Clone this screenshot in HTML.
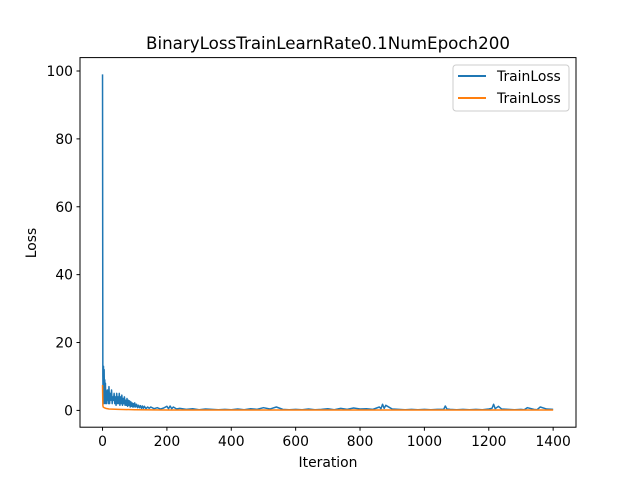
<!DOCTYPE html>
<html><head><meta charset="utf-8"><style>
body{margin:0;background:#fff}
svg text{font-family:"DejaVu Sans","Liberation Sans",sans-serif;fill:#000}
</style></head><body>
<svg id="chart" width="640" height="480">
<rect x="0" y="0" width="640" height="480" fill="#fff"/>
<text x="328" y="49" font-size="16.7" text-anchor="middle">BinaryLossTrainLearnRate0.1NumEpoch200</text>
<g id="plot"></g>
<rect x="80" y="57.6" width="496" height="369.6" fill="none" stroke="#000" stroke-width="1"/>
<g id="ticks"></g>
<text x="328" y="467" font-size="13.9" text-anchor="middle">Iteration</text>
<text x="36" y="243" font-size="13.9" text-anchor="middle" transform="rotate(-90 36 243)">Loss</text>
<g>
<rect x="453" y="65" width="116" height="46" rx="3" fill="#fff" fill-opacity="0.8" stroke="#ccc"/>
<line x1="458" y1="76" x2="486" y2="76" stroke="#1f77b4" stroke-width="2"/>
<text x="497" y="81" font-size="13.9">TrainLoss</text>
<line x1="458" y1="98" x2="486" y2="98" stroke="#ff7f0e" stroke-width="2"/>
<text x="497" y="103" font-size="13.9">TrainLoss</text>
</g>
</svg>
<script>
const blueIters=[0,1,2,3,4,5,6,7,8,9,10,11,12,13,14,16,18,20,22,24,26,28,30,32,34,36,38,40,42,44,46,48,50,52,54,56,58,60,62,64,66,68,70,72,74,76,78,80,82,84,86,88,90,92,94,96,98,100,103,106,109,112,115,118,121,124,127,130,135,140,145,150,160,170,180,190,200,205,210,215,220,230,240,260,280,300,320,340,360,380,400,420,440,460,480,500,520,540,560,580,600,620,640,660,680,700,720,740,760,780,800,820,840,860,865,870,875,880,900,920,940,960,980,1000,1020,1040,1060,1065,1070,1080,1100,1120,1140,1160,1180,1200,1210,1215,1220,1230,1240,1260,1280,1300,1310,1320,1340,1350,1360,1380,1400];
const blueLoss=[99,10,3,13,2,12,4,9,2,8,3,6,2,5,3,6,2,7,2,5,3,6,2,4,3,5,2,4,1.5,5,2,4,2,5,1.5,4,2,4.5,1.5,3.5,2,4,1.5,3,1.5,3.5,1.2,3,1.5,2.8,1,2.5,1.2,2.2,1,2,1,2.2,1,1.8,0.8,1.5,0.8,1.4,0.6,1.3,0.6,1.2,0.5,1,0.6,1,0.5,0.8,0.4,0.7,1.2,0.5,1.3,0.5,1,0.4,0.6,0.3,0.5,0.2,0.4,0.3,0.2,0.3,0.2,0.4,0.2,0.5,0.3,0.8,0.4,1,0.3,0.2,0.3,0.2,0.4,0.2,0.3,0.5,0.2,0.6,0.3,0.7,0.4,0.5,0.3,1,0.5,1.8,0.6,1.5,0.4,0.3,0.2,0.3,0.2,0.3,0.2,0.3,0.3,1.3,0.4,0.3,0.2,0.3,0.2,0.3,0.2,0.4,0.6,1.8,0.5,1.2,0.4,0.3,0.2,0.3,0.2,0.8,0.3,0.2,1,0.4,0.3,0.9];
const orangeIters=[0,1,2,5,10,20,50,100,200,400,600,800,1000,1200,1400];
const orangeLoss=[7.5,1.5,1,0.8,0.6,0.4,0.3,0.2,0.1,0.1,0.1,0.1,0.1,0.1,0.1];
const xTicks=[0,200,400,600,800,1000,1200,1400];
const yTicks=[0,20,40,60,80,100];
const xMin=-70,xMax=1471,yMin=-4.95,yMax=103.95;
const L=80,R=576,T=57.6,B=427.2;
const X=v=>L+(v-xMin)/(xMax-xMin)*(R-L);
const Y=v=>B-(v-yMin)/(yMax-yMin)*(B-T);
const NS='http://www.w3.org/2000/svg';
const plot=document.getElementById('plot'),ticks=document.getElementById('ticks');
function line(xs,ys,color,name){
  const n=Math.min(xs.length,ys.length);let d='';
  for(let i=0;i<n;i++)d+=(i?'L':'M')+X(xs[i]).toFixed(2)+' '+Y(ys[i]).toFixed(2);
  const p=document.createElementNS(NS,'path');
  p.setAttribute('d',d);p.setAttribute('fill','none');p.setAttribute('stroke',color);
  p.setAttribute('stroke-width','1.5');p.setAttribute('stroke-linejoin','round');
  
  
  plot.appendChild(p);
}
line(blueIters,blueLoss,'#1f77b4','train-loss-blue-line');
line(orangeIters,orangeLoss,'#ff7f0e','train-loss-orange-line');
xTicks.forEach(v=>{
  const x=X(v);
  const l=document.createElementNS(NS,'line');
  l.setAttribute('x1',x);l.setAttribute('x2',x);l.setAttribute('y1',B);l.setAttribute('y2',B+3.5);l.setAttribute('stroke','#000');
  
  
  ticks.appendChild(l);
  const t=document.createElementNS(NS,'text');
  t.setAttribute('x',x);t.setAttribute('y',B+19);t.setAttribute('font-size','13.9');t.setAttribute('text-anchor','middle');
  t.textContent=v;
  
  
  ticks.appendChild(t);
});
yTicks.forEach(v=>{
  const y=Y(v);
  const l=document.createElementNS(NS,'line');
  l.setAttribute('x1',L-3.5);l.setAttribute('x2',L);l.setAttribute('y1',y);l.setAttribute('y2',y);l.setAttribute('stroke','#000');
  
  
  ticks.appendChild(l);
  const t=document.createElementNS(NS,'text');
  t.setAttribute('x',L-7);t.setAttribute('y',y+5);t.setAttribute('font-size','13.9');t.setAttribute('text-anchor','end');
  t.textContent=v;
  
  
  ticks.appendChild(t);
});
</script>
</body></html>
